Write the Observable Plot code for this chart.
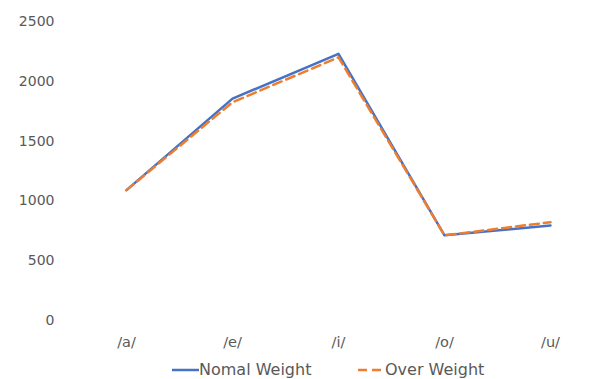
<!DOCTYPE html>
<html><head><meta charset="utf-8">
<script src="https://cdn.jsdelivr.net/npm/d3@7"></script>
<script src="https://cdn.jsdelivr.net/npm/@observablehq/plot@0.6"></script>
<style>
body{margin:0;background:#fff;font-family:"DejaVu Sans",sans-serif;}
#legend{height:27px;font-size:16px;color:#595959;position:relative}
.item{position:absolute;top:8px;display:flex;align-items:center;line-height:20px}
</style></head><body>
<div id="chart"></div>
<div id="legend"></div>
<script>
const vowels = ["/a/","/e/","/i/","/o/","/u/"];
const normalWeight = [1090, 1855, 2230, 712, 795];
const overWeight = [1090, 1825, 2200, 712, 822];
const seriesNames = ["Nomal Weight","Over Weight"];
const colors = ["#4472C4","#ED7D31"];
const yTicks = [0,500,1000,1500,2000,2500];

const data = vowels.map((v,i)=>({vowel:v, value:normalWeight[i], series:seriesNames[0]}));
const dataOver = vowels.map((v,i)=>({vowel:v, value:overWeight[i], series:seriesNames[1]}));

const plot = Plot.plot({
  width: 607, height: 352,
  marginLeft: 72, marginRight: 3, marginTop: 21, marginBottom: 32,
  style:{fontFamily:'"DejaVu Sans",sans-serif', fontSize:"14px", color:"#595959"},
  x:{type:"point", domain:vowels, padding:0.5, label:null},
  y:{domain:[0,2500], label:null},
  marks:[
    Plot.ruleY(yTicks, {stroke:"#d9d9d9", strokeWidth:1, x1:72, x2:604}),
    Plot.axisY(yTicks, {tickSize:0, tickPadding:18, label:null, fontSize:14, tickFormat:d=>String(d)}),
    Plot.axisX({tickSize:0, tickPadding:16, label:null, fontSize:14.5}),
    Plot.line(data, {x:"vowel", y:"value", stroke:colors[0], strokeWidth:2.5}),
    Plot.line(dataOver, {x:"vowel", y:"value", stroke:colors[1], strokeWidth:2.5, strokeDasharray:"9,5"})
  ]
});
document.getElementById("chart").append(plot);

const legend = document.getElementById("legend");
const pos = [172, 358];
seriesNames.forEach((n,i)=>{
  const it = document.createElement("div");
  it.className="item";
  it.style.left = pos[i]+"px";
  const dash = i===1 ? 'stroke-dasharray="9,5"' : '';
  it.innerHTML = `<svg width="27" height="10"><line x1="0" x2="27" y1="5" y2="5" stroke="${colors[i]}" stroke-width="2.5" ${dash}/></svg><span>${n}</span>`;
  legend.append(it);
});
</script>
</body></html>
